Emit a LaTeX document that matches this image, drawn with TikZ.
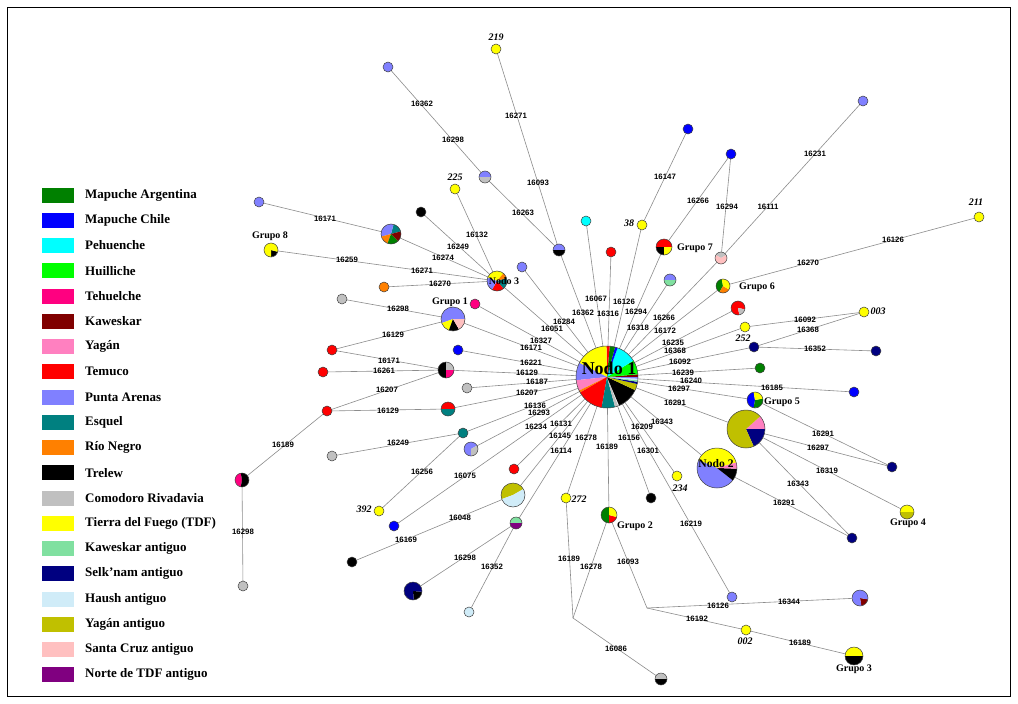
\documentclass[tikz,border=0pt]{standalone}
\usepackage{fontspec}
\setmainfont{Liberation Serif}
\setsansfont{Liberation Sans}
\usetikzlibrary{backgrounds}
\definecolor{cMA}{HTML}{008000}
\definecolor{cMC}{HTML}{0000FF}
\definecolor{cPE}{HTML}{00FFFF}
\definecolor{cHU}{HTML}{00FF00}
\definecolor{cTE}{HTML}{FF0080}
\definecolor{cKA}{HTML}{800000}
\definecolor{cYA}{HTML}{FF80C0}
\definecolor{cTM}{HTML}{FF0000}
\definecolor{cPA}{HTML}{8080FF}
\definecolor{cES}{HTML}{008080}
\definecolor{cRN}{HTML}{FF8000}
\definecolor{cTR}{HTML}{000000}
\definecolor{cCR}{HTML}{C0C0C0}
\definecolor{cTD}{HTML}{FFFF00}
\definecolor{cKAa}{HTML}{80E0A0}
\definecolor{cSEa}{HTML}{000080}
\definecolor{cHAa}{HTML}{D0ECF8}
\definecolor{cYAa}{HTML}{C0C000}
\definecolor{cSCa}{HTML}{FFC0C0}
\definecolor{cNTa}{HTML}{800080}
\newcounter{mutc}
\newcommand\hap[5]{%
  \node[hapn, minimum size=2*#4pt] (#1) at (#2,#3) {};
  \foreach \sa/\sb/\sc in {#5}{%
    \fill[\sc] (#1.center) -- ++(\sa:#4pt) arc[start angle=\sa, end angle=\sb, radius=#4pt] -- cycle;}
  \draw[hapb] (#1.center) circle[radius=#4pt];
}
\newcommand\mut[3]{\stepcounter{mutc}\node[mutl] (m\arabic{mutc}) at (#1,#2) {#3};}
\tikzset{
  hapn/.style={circle, inner sep=0pt, outer sep=0pt},
  hapb/.style={draw=black!75, line width=0.5pt},
  edge/.style={draw=black!45, line width=0.6pt},
  mutl/.style={inner sep=0pt, font=\sffamily\bfseries\fontsize{7.8}{8}\selectfont},
  hlab/.style={inner sep=0pt, font=\bfseries\itshape\fontsize{10}{11}\selectfont},
  glab/.style={inner sep=0pt, font=\bfseries\fontsize{10}{11}\selectfont},
  legt/.style={anchor=west, inner sep=0pt, font=\bfseries\fontsize{13}{14}\selectfont},
  legs/.style={inner sep=0pt, minimum width=32pt, minimum height=15pt}
}
\begin{document}
\begin{tikzpicture}[x=1pt,y=-1pt]
\useasboundingbox (0,0) rectangle (1018,704);
\draw[line width=0.8pt] (7.5,7.5) rectangle (1010.5,696.5);
% legend
\foreach \i/\c/\t in {0/cMA/Mapuche Argentina,1/cMC/Mapuche Chile,2/cPE/Pehuenche,3/cHU/Huilliche,4/cTE/Tehuelche,5/cKA/Kaweskar,6/cYA/Yagán,7/cTM/Temuco,8/cPA/Punta Arenas,9/cES/Esquel,10/cRN/Río Negro,11/cTR/Trelew,12/cCR/Comodoro Rivadavia,13/cTD/Tierra del Fuego (TDF),14/cKAa/Kaweskar antiguo,15/cSEa/Selk’nam antiguo,16/cHAa/Haush antiguo,17/cYAa/Yagán antiguo,18/cSCa/Santa Cruz antiguo,19/cNTa/Norte de TDF antiguo}{
  \node[legs, fill=\c] (sw\i) at (58,{195+25.25*\i}) {};
  \node[legt] (st\i) at (85,{195+25.25*\i}) {\t};
}
% haplotypes
\hap{n1}{607}{377}{31}{0/5/cKA,5/32/cHU,32/70/cPE,70/75/cMC,75/85/cMA,85/91/cTM,91/153/cTD,153/186/cPA,186/206/cYA,206/210/cRN,210/260/cTM,260/285/cES,285/291/cCR,293/335/cTR,335/347/cYAa,347/351/cSEa,351/354/cKAa,354/357/cHAa,357/360/cPA}
\hap{pa67}{388}{67}{5}{0/360/cPA}
\hap{pg177}{485}{177}{6}{0/180/cPA,180/360/cCR}
\hap{h219}{496}{49}{5}{0/360/cTD}
\hap{h225}{455}{189}{5}{0/360/cTD}
\hap{pa202}{259}{202}{5}{0/360/cPA}
\hap{bk212}{421}{212}{5}{0/360/cTR}
\hap{mp234}{391}{234}{10}{15/75/cES,75/195/cPA,195/250/cRN,250/315/cMA,315/375/cKA}
\hap{g8}{271}{250}{7}{270/345/cTR,345/630/cTD}
\hap{pb250}{559}{250}{6}{0/180/cPA,180/360/cTR}
\hap{cy221}{586}{221}{5}{0/360/cPE}
\hap{rd252}{611}{252}{5}{0/360/cTM}
\hap{h38}{642}{225}{5}{0/360/cTD}
\hap{bl129}{688}{129}{5}{0/360/cMC}
\hap{bl154}{731}{154}{5}{0/360/cMC}
\hap{pa101}{863}{101}{5}{0/360/cPA}
\hap{g7}{664}{247}{8}{0/180/cTM,180/270/cTR,270/360/cTD}
\hap{sc258}{721}{258}{6}{30/150/cCR,150/390/cSCa}
\hap{ka280}{670}{280}{6}{0/180/cPA,180/360/cKAa}
\hap{g6}{723}{286}{7}{100/240/cMA,240/330/cRN,330/460/cTD}
\hap{h211}{979}{217}{5}{0/360/cTD}
\hap{rg308}{738}{308}{7}{-10/280/cTM,280/350/cCR}
\hap{h252}{745}{327}{5}{0/360/cTD}
\hap{h003}{864}{312}{5}{0/360/cTD}
\hap{nv347}{754}{347}{5}{0/360/cSEa}
\hap{nv351}{876}{351}{5}{0/360/cSEa}
\hap{gr368}{760}{368}{5}{0/360/cMA}
\hap{bl392}{854}{392}{5}{0/360/cMC}
\hap{g5}{755}{400}{8}{100/260/cMC,260/370/cMA,10/100/cTD}
\hap{yo435}{746}{429}{19}{0/42/cYA,-66/0/cSEa,42/294/cYAa}
\hap{nv467}{892}{467}{5}{0/360/cSEa}
\hap{g4}{907}{512}{7}{0/180/cTD,180/360/cYAa}
\hap{nv538}{852}{538}{5}{0/360/cSEa}
\hap{n2}{717}{468}{20}{16/157/cTD,157/322/cPA,322/358/cTR,358/376/cYA}
\hap{h234}{677}{476}{5}{0/360/cTD}
\hap{bk498}{651}{498}{5}{0/360/cTR}
\hap{g2}{609}{515}{8}{90/270/cMA,270/345/cTM,345/450/cTD}
\hap{h272}{566}{498}{5}{0/360/cTD}
\hap{pa597}{732}{597}{5}{0/360/cPA}
\hap{pk598}{860}{598}{8}{280/350/cKA,350/640/cPA}
\hap{h002}{746}{630}{5}{0/360/cTD}
\hap{g3}{854}{656}{9}{0/180/cTD,180/360/cTR}
\hap{bg679}{661}{679}{6}{0/180/cCR,180/360/cTR}
\hap{pa267}{522}{267}{5}{0/360/cPA}
\hap{n3}{497}{281}{10}{50/160/cTD,15/50/cRN,-50/15/cES,240/310/cTM,160/240/cPA}
\hap{or287}{384}{287}{5}{0/360/cRN}
\hap{gy299}{342}{299}{5}{0/360/cCR}
\hap{g1}{453}{319}{12}{0/200/cPA,200/250/cTD,250/300/cTR,300/360/cSCa}
\hap{th304}{475}{304}{5}{0/360/cTE}
\hap{rd350}{332}{350}{5}{0/360/cTM}
\hap{bl350}{458}{350}{5}{0/360/cMC}
\hap{rd372}{323}{372}{5}{0/360/cTM}
\hap{bgt370}{446}{370}{8}{90/270/cTR,0/90/cCR,270/360/cTE}
\hap{gy388}{467}{388}{5}{0/360/cCR}
\hap{rd411}{327}{411}{5}{0/360/cTM}
\hap{rt409}{448}{409}{7}{0/180/cTM,180/360/cES}
\hap{te433}{463}{433}{5}{0/360/cES}
\hap{gy456}{332}{456}{5}{0/360/cCR}
\hap{pgy449}{471}{449}{7}{30/270/cPA,270/390/cCR}
\hap{tb480}{242}{480}{7}{100/260/cTE,260/460/cTR}
\hap{gy586}{243}{586}{5}{0/360/cCR}
\hap{h392}{379}{511}{5}{0/360/cTD}
\hap{bl526}{394}{526}{5}{0/360/cMC}
\hap{bk562}{352}{562}{5}{0/360/cTR}
\hap{oh495}{513}{495}{12}{30/200/cYAa,200/390/cHAa}
\hap{rd469}{514}{469}{5}{0/360/cTM}
\hap{kn523}{516}{523}{6}{0/180/cKAa,180/360/cNTa}
\hap{nb591}{413}{591}{9}{275/355/cTR,355/635/cSEa}
\hap{hs612}{469}{612}{5}{0/360/cHAa}
\coordinate (j1) at (573,618);
\coordinate (j2) at (647,608);
% connectors
\begin{scope}[on background layer]
\fill[white] (0,0) rectangle (1018,704);
\foreach \a/\b in {pa67/pg177,pg177/pb250,h219/pb250,pb250/n1,h225/n3,bk212/n3,pa202/mp234,mp234/n3,g8/n3,or287/n3,n3/n1,pa267/n1,cy221/n1,rd252/n1,h38/n1,h38/bl129,g7/n1,g7/bl154,bl154/sc258,pa101/sc258,sc258/n1,ka280/n1,g6/n1,g6/h211,rg308/n1,h252/n1,h252/h003,h003/nv347,nv347/n1,nv347/nv351,gr368/n1,bl392/n1,g5/n1,g5/nv467,yo435/n1,yo435/nv467,yo435/g4,yo435/nv538,n2/n1,n2/nv538,h234/n1,pa597/n1,bk498/n1,g2/n1,h272/n1,h272/j1,g2/j1,j1/bg679,g2/j2,j2/pk598,j2/h002,h002/g3,kn523/n1,oh495/n1,rd469/n1,bl526/n1,pgy449/n1,te433/n1,rt409/n1,gy388/n1,bgt370/n1,bl350/n1,g1/n1,th304/n1,gy299/g1,rd350/g1,rd350/bgt370,rd372/bgt370,rd411/bgt370,rd411/rt409,rd411/tb480,tb480/gy586,gy456/te433,h392/te433,bk562/oh495,nb591/kn523,hs612/kn523}
  {\draw[edge] (\a) -- (\b);}
\end{scope}
% mutation labels
\mut{422}{104}{16362}\mut{453}{140}{16298}\mut{523}{213}{16263}\mut{516}{116}{16271}
\mut{538}{183}{16093}\mut{477}{235}{16132}\mut{458}{247}{16249}\mut{325}{219}{16171}
\mut{443}{258}{16274}\mut{347}{260}{16259}\mut{422}{271}{16271}\mut{440}{284}{16270}
\mut{665}{177}{16147}\mut{698}{201}{16266}\mut{727}{207}{16294}\mut{815}{154}{16231}
\mut{768}{207}{16111}\mut{893}{240}{16126}\mut{808}{263}{16270}\mut{805}{320}{16092}
\mut{808}{330}{16368}\mut{815}{349}{16352}\mut{772}{388}{16185}\mut{823}{434}{16291}
\mut{818}{448}{16297}\mut{827}{471}{16319}\mut{798}{484}{16343}\mut{784}{503}{16291}
\mut{789}{602}{16344}\mut{800}{643}{16189}\mut{718}{606}{16126}\mut{697}{619}{16192}
\mut{628}{562}{16093}\mut{591}{567}{16278}\mut{569}{559}{16189}\mut{616}{649}{16086}
\mut{691}{524}{16219}\mut{283}{445}{16189}\mut{243}{532}{16298}\mut{398}{443}{16249}
\mut{422}{472}{16256}\mut{465}{476}{16075}\mut{406}{540}{16169}\mut{460}{518}{16048}
\mut{465}{558}{16298}\mut{492}{567}{16352}\mut{398}{309}{16298}\mut{393}{335}{16129}
\mut{389}{361}{16171}\mut{384}{371}{16261}\mut{387}{390}{16207}\mut{388}{411}{16129}
% around Nodo 1
\mut{596}{299}{16067}\mut{624}{302}{16126}\mut{583}{313}{16362}\mut{608}{314}{16316}
\mut{636}{312}{16294}\mut{564}{322}{16284}\mut{664}{318}{16266}\mut{552}{329}{16051}
\mut{638}{328}{16318}\mut{665}{331}{16172}\mut{541}{341}{16327}\mut{531}{348}{16171}
\mut{673}{343}{16235}\mut{675}{351}{16368}\mut{680}{362}{16092}\mut{531}{363}{16221}
\mut{527}{373}{16129}\mut{683}{373}{16239}\mut{537}{382}{16187}\mut{691}{381}{16240}
\mut{679}{389}{16297}\mut{527}{393}{16207}\mut{675}{403}{16291}\mut{535}{406}{16136}
\mut{539}{413}{16293}\mut{662}{422}{16343}\mut{642}{427}{16209}\mut{536}{427}{16234}
\mut{561}{424}{16131}\mut{560}{436}{16145}\mut{586}{438}{16278}\mut{629}{438}{16156}
\mut{561}{451}{16114}\mut{607}{447}{16189}\mut{648}{451}{16301}
% haplotype numbers
\node[hlab] (t219) at (496,37) {219};
\node[hlab] (t225) at (455,177) {225};
\node[hlab] (t38) at (629,223) {38};
\node[hlab] (t211) at (976,202) {211};
\node[hlab] (t003) at (878,311) {003};
\node[hlab] (t252) at (743,338) {252};
\node[hlab] (t234) at (680,488) {234};
\node[hlab] (t392) at (364,509) {392};
\node[hlab] (t272) at (579,499) {272};
\node[hlab] (t002) at (745,641) {002};
% group labels
\node[glab] (tg8) at (270,236) {Grupo 8};
\node[glab] (tg1) at (450,302) {Grupo 1};
\node[glab] (tg7) at (695,248) {Grupo 7};
\node[glab] (tg6) at (757,287) {Grupo 6};
\node[glab] (tg5) at (782,402) {Grupo 5};
\node[glab] (tg4) at (908,523) {Grupo 4};
\node[glab] (tg3) at (854,669) {Grupo 3};
\node[glab] (tg2) at (635,526) {Grupo 2};
\node[inner sep=0pt, font=\bfseries\fontsize{10}{11}\selectfont] (tn3) at (504,281) {Nodo 3};
\node[inner sep=0pt, font=\bfseries\fontsize{18}{19}\selectfont] (tn1) at (609,368) {Nodo 1};
\node[inner sep=0pt, font=\bfseries\fontsize{11.6}{12}\selectfont] (tn2) at (716,464) {Nodo 2};
\end{tikzpicture}
\end{document}
